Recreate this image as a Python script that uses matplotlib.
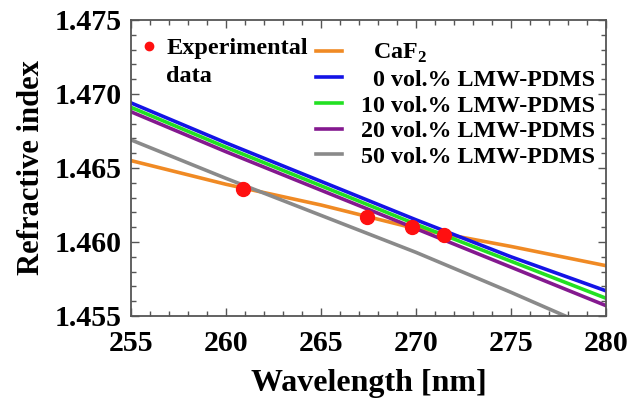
import matplotlib
matplotlib.use("Agg")
import matplotlib.pyplot as plt
from matplotlib.ticker import MultipleLocator, FormatStrFormatter
from matplotlib.lines import Line2D

plt.rcParams['font.family'] = ['Liberation Serif', 'DejaVu Serif']
plt.rcParams['font.weight'] = 'bold'
plt.rcParams['mathtext.fontset'] = 'custom'
plt.rcParams['mathtext.rm'] = 'Liberation Serif:bold'
plt.rcParams['mathtext.bf'] = 'Liberation Serif:bold'

# wavelength grid [nm]
wl = [255, 260, 265, 270, 275, 280]

# refractive index curves
n_caf2 = [1.4655, 1.4639, 1.4625, 1.4609, 1.4597, 1.4584]
n_0 = [1.4694, 1.4667, 1.4641, 1.4615, 1.4590, 1.4567]
n_10 = [1.4691, 1.4664, 1.4638, 1.4612, 1.4587, 1.4562]
n_20 = [1.4688, 1.4661, 1.4635, 1.4609, 1.4583, 1.4557]
n_50 = [1.4669, 1.4643, 1.4618, 1.4593, 1.4566, 1.4538]

# experimental data
exp_wl = [260.9, 267.4, 269.8, 271.5]
exp_n = [1.4636, 1.4617, 1.4610, 1.4605]

series = [
    ("  CaF$_2$", n_caf2, "#f08a24"),
    ("  0 vol.% LMW-PDMS", n_0, "#1414e6"),
    ("10 vol.% LMW-PDMS", n_10, "#22e022"),
    ("20 vol.% LMW-PDMS", n_20, "#84198f"),
    ("50 vol.% LMW-PDMS", n_50, "#8a8a8a"),
]

fig = plt.figure(figsize=(6.38, 4.0), dpi=100)
ax = fig.add_axes([0.2053, 0.21, 0.7445, 0.74])

handles = []
for label, n, color in series:
    h, = ax.plot(wl, n, color=color, lw=2.6, label=label)
    handles.append(h)

ax.plot(exp_wl, exp_n, 'o', color='#ff1010', ms=10, zorder=5)

ax.set_xlim(255, 280)
ax.set_ylim(1.455, 1.475)
ax.xaxis.set_major_locator(MultipleLocator(5))
ax.xaxis.set_minor_locator(MultipleLocator(1))
ax.yaxis.set_major_locator(MultipleLocator(0.005))
ax.yaxis.set_minor_locator(MultipleLocator(0.001))
ax.yaxis.set_major_formatter(FormatStrFormatter('%.3f'))
ax.tick_params(which='both', direction='in', top=True, right=True,
               color='#555555', labelsize=21.5)
ax.tick_params(axis='x', pad=10)
ax.tick_params(axis='y', pad=7)
ax.tick_params(which='major', length=6, width=1)
ax.tick_params(which='minor', length=3.5, width=1)
for s in ax.spines.values():
    s.set_color('#555555')
    s.set_linewidth(1.3)

ax.set_xlabel('Wavelength [nm]', fontsize=23, fontweight='bold', labelpad=9)
ax.set_ylabel('Refractive index', fontsize=22, fontweight='bold', labelpad=6)

leg1 = ax.legend(handles=handles, loc='upper right', frameon=False,
                 fontsize=17.3, handlelength=1.1, handletextpad=0.8,
                 labelspacing=0.16, borderaxespad=0.0,
                 bbox_to_anchor=(0.998, 0.958))
ax.add_artist(leg1)

exp_handle = Line2D([], [], ls='none', marker='o', color='#ff1010', ms=6)
blank = Line2D([], [], ls='none')
ax.legend(handles=[exp_handle, blank], labels=['Experimental', 'data'],
          loc='upper left', frameon=False, fontsize=17.5,
          handlelength=0.5, handletextpad=0.45, labelspacing=0.25,
          borderaxespad=0.0, bbox_to_anchor=(0.005, 0.975))

fig.savefig('out.png', dpi=100)
